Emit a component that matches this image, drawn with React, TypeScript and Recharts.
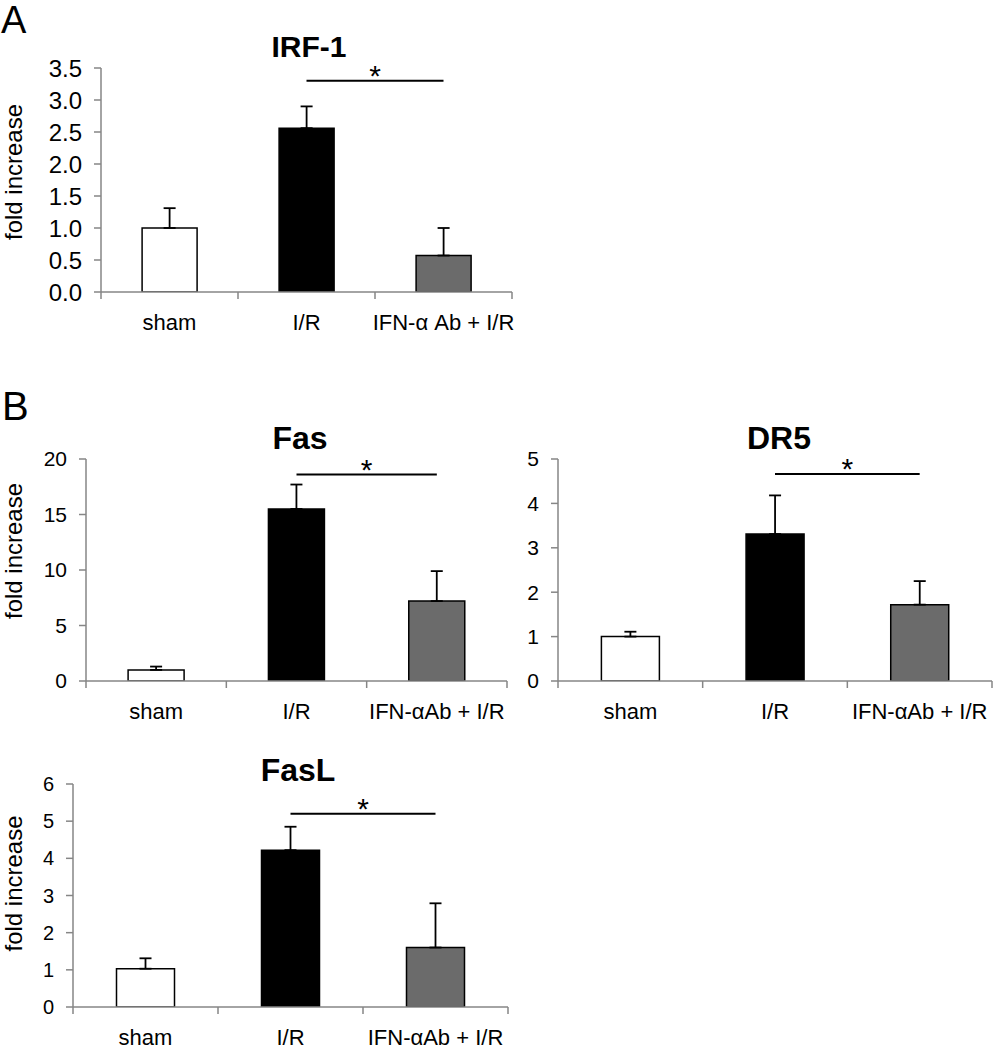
import { BarChart, Bar, XAxis, YAxis, Cell, ErrorBar, ReferenceLine } from 'recharts'

const FONT = '"Liberation Sans", Arial, Helvetica, sans-serif'
const AXIS = '#868686'

// groups
const irfGroups = ['sham', 'I/R', 'IFN-α Ab + I/R']
const groups = ['sham', 'I/R', 'IFN-αAb + I/R']
const barFills = ['#ffffff', '#000000', '#6b6b6b']

// IRF-1
const irfValues = [1.0, 2.56, 0.57]
const irfErrors = [0.31, 0.34, 0.43]
const irfTicks = [0, 0.5, 1, 1.5, 2, 2.5, 3, 3.5]
const irfStar = 3.3

// Fas
const fasValues = [1.0, 15.5, 7.2]
const fasErrors = [0.3, 2.2, 2.7]
const fasTicks = [0, 5, 10, 15, 20]
const fasStar = 18.6

// DR5
const dr5Values = [1.0, 3.31, 1.72]
const dr5Errors = [0.11, 0.87, 0.53]
const dr5Ticks = [0, 1, 2, 3, 4, 5]
const dr5Star = 4.66

// FasL
const faslValues = [1.03, 4.22, 1.6]
const faslErrors = [0.28, 0.63, 1.19]
const faslTicks = [0, 1, 2, 3, 4, 5, 6]
const faslStar = 5.2

const CatTick = (props: any) => {
  const { x, y, payload, index, visibleTicksCount, width } = props
  const band = width && visibleTicksCount ? width / visibleTicksCount : 0
  return (
    <g>
      {band > 0 && <line x1={x - band / 2} y1={y} x2={x - band / 2} y2={y + 7} stroke={AXIS} strokeWidth={1.5} />}
      {band > 0 && index === visibleTicksCount - 1 && (
        <line x1={x + band / 2} y1={y} x2={x + band / 2} y2={y + 7} stroke={AXIS} strokeWidth={1.5} />
      )}
      <text x={x} y={y + 38} textAnchor="middle" fontSize={22} fill="#000">
        {payload.value}
      </text>
    </g>
  )
}

const YTitle = (props: any) => {
  const { viewBox, shift } = props
  if (!viewBox) return null
  const cx = viewBox.x + 13
  const cy = viewBox.y + viewBox.height / 2 - shift
  return (
    <text x={cx} y={cy} transform={`rotate(-90 ${cx} ${cy})`} textAnchor="middle" dominantBaseline="central" fontSize={24} fill="#000">
      fold increase
    </text>
  )
}

type PanelProps = {
  names: string[]
  values: number[]
  errors: number[]
  ticks: number[]
  star: number
  decimals: number
  left: number
  top: number
  width: number
  height: number
  margin: { top: number; right: number; bottom: number; left: number }
  yWidth: number
  tickFont: number
  titleShift?: number
}

function Panel(p: PanelProps) {
  const data = p.names.map((name, i) => ({ name, value: p.values[i], err: [0, p.errors[i]] }))
  const max = p.ticks[p.ticks.length - 1]
  return (
    <div style={{ position: 'absolute', left: p.left, top: p.top }}>
      <BarChart width={p.width} height={p.height} data={data} margin={p.margin} barCategoryGap="30%">
        <XAxis
          dataKey="name"
          type="category"
          interval={0}
          tickLine={false}
          tickSize={0}
          tickMargin={0}
          height={40}
          stroke={AXIS}
          strokeWidth={1.5}
          tick={<CatTick />}
        />
        <YAxis
          type="number"
          domain={[0, max]}
          ticks={p.ticks}
          interval={0}
          width={p.yWidth}
          allowDataOverflow
          tickFormatter={(v: number) => v.toFixed(p.decimals)}
          tick={{ fontSize: p.tickFont, fill: '#000' }}
          stroke={AXIS}
          strokeWidth={1.5}
          tickSize={7}
          tickMargin={12}
          label={p.titleShift !== undefined ? <YTitle shift={p.titleShift} /> : undefined}
        />
        <Bar dataKey="value" isAnimationActive={false} stroke="#000" strokeWidth={1.5}>
          {data.map((d, i) => (
            <Cell key={d.name} fill={barFills[i]} />
          ))}
          <ErrorBar dataKey="err" direction="y" width={6} stroke="#000" strokeWidth={1.8} />
        </Bar>
        <ReferenceLine
          segment={[
            { x: p.names[1], y: p.star },
            { x: p.names[2], y: p.star },
          ]}
          stroke="#000"
          strokeWidth={2}
          label={{ value: '*', position: 'top', offset: -5, fontSize: 30, fill: '#000' }}
        />
      </BarChart>
    </div>
  )
}

export default function App() {
  return (
    <div style={{ position: 'absolute', left: 0, top: 0, width: 996, height: 1050, background: '#fff', fontFamily: FONT }}>
      <svg width={996} height={1050} style={{ position: 'absolute', left: 0, top: 0 }}>
        <text x={1} y={33} fontSize={38} fill="#000">A</text>
        <text x={2} y={420} fontSize={40} fill="#000">B</text>
        <text x={309} y={57} fontSize={30} fontWeight="bold" textAnchor="middle" fill="#000">IRF-1</text>
        <text x={300} y={449} fontSize={32} fontWeight="bold" textAnchor="middle" fill="#000">Fas</text>
        <text x={779} y={449} fontSize={32} fontWeight="bold" textAnchor="middle" fill="#000">DR5</text>
        <text x={298} y={781} fontSize={32} fontWeight="bold" textAnchor="middle" fill="#000">FasL</text>
      </svg>
      <Panel
        names={irfGroups} values={irfValues} errors={irfErrors} ticks={irfTicks} star={irfStar} decimals={1}
        left={0} top={0} width={545} height={345}
        margin={{ top: 68, right: 33, bottom: 13, left: 0 }} yWidth={101} tickFont={24} titleShift={8}
      />
      <Panel
        names={groups} values={fasValues} errors={fasErrors} ticks={fasTicks} star={fasStar} decimals={0}
        left={0} top={380} width={535} height={370}
        margin={{ top: 79, right: 28, bottom: 29, left: 0 }} yWidth={86} tickFont={21} titleShift={19}
      />
      <Panel
        names={groups} values={dr5Values} errors={dr5Errors} ticks={dr5Ticks} star={dr5Star} decimals={0}
        left={500} top={380} width={496} height={370}
        margin={{ top: 79, right: 4, bottom: 29, left: 0 }} yWidth={58} tickFont={21}
      />
      <Panel
        names={groups} values={faslValues} errors={faslErrors} ticks={faslTicks} star={faslStar} decimals={0}
        left={0} top={705} width={535} height={345}
        margin={{ top: 79, right: 27, bottom: 3, left: 0 }} yWidth={73} tickFont={20} titleShift={12}
      />
    </div>
  )
}
